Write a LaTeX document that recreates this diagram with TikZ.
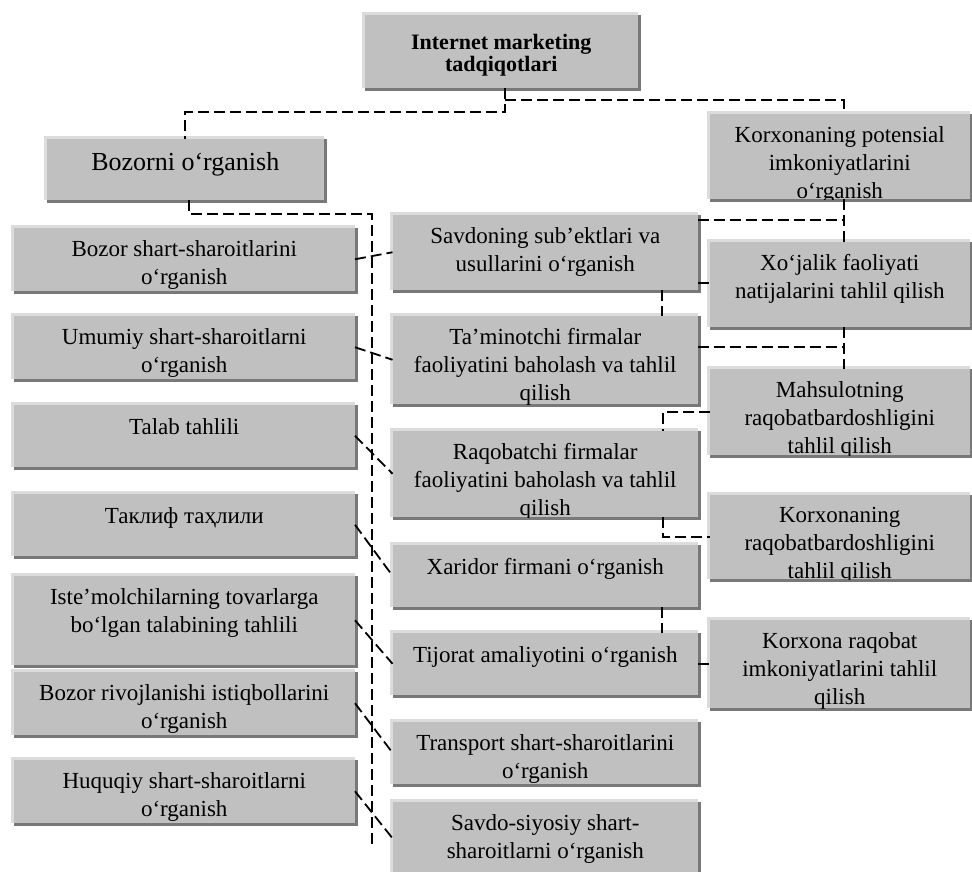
\documentclass[tikz,border=0pt]{standalone}
\usepackage{fontspec}
\setmainfont{Liberation Serif}
\usetikzlibrary{fit}

\definecolor{boxfill}{HTML}{C0C0C0}
\definecolor{boxlight}{HTML}{DCDCDC}
\definecolor{boxdark}{HTML}{787878}

% #1 name, #2 x1, #3 y1, #4 x2, #5 y2, #6 text style, #7 anchor for the text, #8 text
\newcommand\gbox[8]{%
  \fill[boxdark] (#2+3,#3+3) rectangle (#4,#5);
  \fill[boxlight] (#2,#3) rectangle (#4-3,#5-3);
  \node[mainrect, fit={(#2+2.5,#3+2.5) (#4-3,#5-3)}] (#1) {};
  \begin{scope}
    \clip (#2,#3) rectangle (#4-3,#5-3);
    \node[#6] at (#1.#7) {#8};
  \end{scope}
}

\begin{document}
\begin{tikzpicture}[x=1pt,y=-1pt,
  mainrect/.style={fill=boxfill, inner sep=0pt, outer sep=0pt},
  ltext/.style={font=\fontsize{23}{28}\selectfont, align=center, anchor=north,
    inner sep=0pt, yshift=-12.5pt, execute at begin node={\rule{0pt}{17pt}}},
  ttext/.style={font=\fontsize{22}{22}\selectfont\bfseries, align=center,
    inner sep=0pt, yshift=-4pt},
  btext/.style={font=\fontsize{26}{30}\selectfont, inner sep=0pt, yshift=5pt},
  conn/.style={draw=black, line width=1.8pt, dash pattern=on 11pt off 5pt},
]
\useasboundingbox (0,0) rectangle (972,871);
\clip (0,0) rectangle (972,871);
\fill[white] (0,0) rectangle (972,871);

% top levels
\gbox{top}{362}{12}{641}{91}{ttext}{center}{Internet marketing\\tadqiqotlari}
\gbox{bz}{44}{136}{327}{203}{btext}{center}{Bozorni o‘rganish}
\gbox{kp}{707}{111}{973}{202}{ltext}{north}{Korxonaning potensial\\imkoniyatlarini\\o‘rganish}

% left column
\gbox{bs}{11}{225}{358}{294}{ltext}{north}{Bozor shart-sharoitlarini\\o‘rganish}
\gbox{um}{11}{313}{358}{382}{ltext}{north}{Umumiy shart-sharoitlarni\\o‘rganish}
\gbox{tl}{11}{402}{358}{470}{ltext}{north}{Talab tahlili}
\gbox{tk}{11}{491}{358}{559}{ltext}{north}{Таклиф таҳлили}
\gbox{im}{11}{573}{358}{668}{ltext}{north}{Iste’molchilarning tovarlarga\\bo‘lgan talabining tahlili}
\gbox{br}{11}{669}{358}{738}{ltext}{north}{Bozor rivojlanishi istiqbollarini\\o‘rganish}
\gbox{hq}{11}{757}{358}{826}{ltext}{north}{Huquqiy shart-sharoitlarni\\o‘rganish}

% middle column
\gbox{sv}{390}{212}{701}{293}{ltext}{north}{Savdoning sub’ektlari va\\usullarini o‘rganish}
\gbox{tm}{390}{313}{701}{407}{ltext}{north}{Ta’minotchi firmalar\\faoliyatini baholash va tahlil\\qilish}
\gbox{rq}{390}{428}{701}{520}{ltext}{north}{Raqobatchi firmalar\\faoliyatini baholash va tahlil\\qilish}
\gbox{xd}{390}{542}{701}{610}{ltext}{north}{Xaridor firmani o‘rganish}
\gbox{tj}{390}{630}{701}{698}{ltext}{north}{Tijorat amaliyotini o‘rganish}
\gbox{tr}{390}{719}{701}{787}{ltext}{north}{Transport shart-sharoitlarini\\o‘rganish}
\gbox{ss}{390}{799}{701}{878}{ltext}{north}{Savdo-siyosiy shart-\\sharoitlarni o‘rganish}

% right column
\gbox{xj}{707}{239}{973}{330}{ltext}{north}{Xo‘jalik faoliyati\\natijalarini tahlil qilish}
\gbox{mh}{707}{366}{973}{458}{ltext}{north}{Mahsulotning\\raqobatbardoshligini\\tahlil qilish}
\gbox{kr}{707}{492}{973}{582}{ltext}{north}{Korxonaning\\raqobatbardoshligini\\tahlil qilish}
\gbox{ki}{707}{617}{973}{711}{ltext}{north}{Korxona raqobat\\imkoniyatlarini tahlil\\qilish}

% connectors from the root
\coordinate (t1) at ([xshift=4pt]top.south);
\draw[conn] (t1) -- ++(0,24) -| (bz.north);
\draw[conn] ([xshift=4pt,yshift=-12pt]top.south) -| ([xshift=4pt]kp.north);

% market branch: spine on the left
\coordinate (sptop) at (372,214);
\coordinate (spbot) at (372,848);
\draw[conn] ([xshift=4pt]bz.south) |- (sptop) -- (spbot);
\draw[conn] (bs.east) -- (sv.west);
\draw[conn] (um.east) -- (tm.west);
\draw[conn] (tl.east) -- (rq.west);
\draw[conn] (tk.east) -- (xd.west);
\draw[conn] (im.east) -- (tj.west);
\draw[conn] (br.east) -- (tr.west);
\draw[conn] (hq.east) -- (ss.west);

% enterprise branch: spine on the right
\coordinate (rs1) at ([xshift=4pt]kp.south);
\draw[conn] (rs1) -- (rs1 |- xj.north);
\coordinate (svb) at ([yshift=-5.5pt]sv.north east);
\draw[conn] (svb) -- (svb -| rs1);
\coordinate (svc) at ([yshift=7pt]sv.south east);
\draw[conn] (svc) -- (svc -| xj.west);
\coordinate (rs2) at ([xshift=4pt]xj.south);
\draw[conn] (rs2) -- (rs2 |- mh.north);
\coordinate (tmb) at ([yshift=-31.5pt]tm.north east);
\draw[conn] (tmb) -- (tmb -| rs2);

% links inside the middle column
\coordinate (svd) at ([xshift=-36pt]sv.south east);
\draw[conn] (svd) -- (svd |- tm.north);
\coordinate (rqt) at ([xshift=-35pt]rq.north east);
\draw[conn] (mh.west) -| (rqt);
\coordinate (rqb) at ([xshift=-35pt]rq.south east);
\draw[conn] (rqb) |- (kr.west);
\coordinate (xdb) at ([xshift=-36pt]xd.south east);
\draw[conn] (xdb) -- (xdb |- tj.north);
\draw[conn] (tj.east) -- (tj.east -| ki.west);
\end{tikzpicture}
\end{document}
